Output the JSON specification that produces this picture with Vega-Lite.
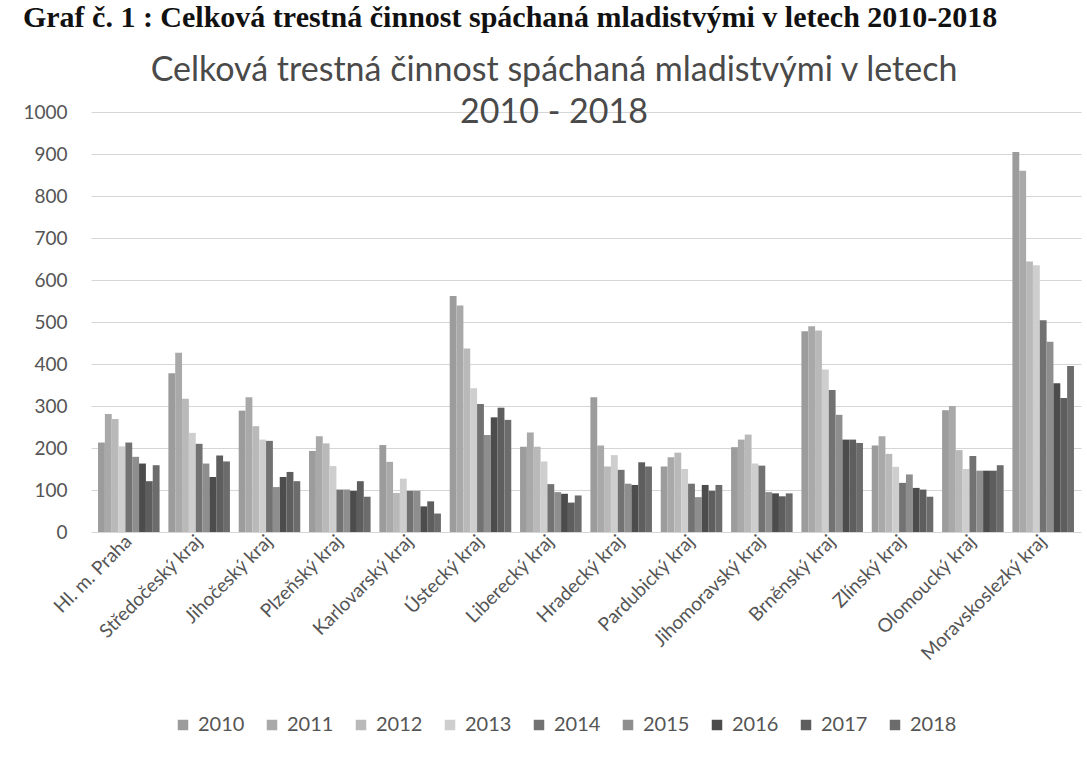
{
  "$schema": "https://vega.github.io/schema/vega-lite/v6.json",
  "padding": {"left": 22, "top": 3, "right": 9, "bottom": 18},
  "background": "white",
  "title": {
    "text": "Graf č. 1 : Celková trestná činnost spáchaná mladistvými v letech 2010-2018",
    "anchor": "start",
    "font": "Liberation Serif",
    "fontSize": 30,
    "fontWeight": "bold",
    "color": "#111111",
    "offset": 21
  },
  "vconcat": [
    {
      "title": {
        "text": ["Celková trestná činnost spáchaná mladistvými v letech", "2010 - 2018"],
        "anchor": "middle",
        "dx": -32,
        "font": "Lato",
        "fontSize": 34,
        "fontWeight": "normal",
        "color": "#4a4a4a",
        "lineHeight": 42,
        "offset": -27
      },
      "width": 990,
      "height": 420,
      "data": {
        "values": [
          {"kraj": "Hl. m. Praha", "rok": "2010", "pocet": 213},
          {"kraj": "Hl. m. Praha", "rok": "2011", "pocet": 281},
          {"kraj": "Hl. m. Praha", "rok": "2012", "pocet": 269},
          {"kraj": "Hl. m. Praha", "rok": "2013", "pocet": 204},
          {"kraj": "Hl. m. Praha", "rok": "2014", "pocet": 213},
          {"kraj": "Hl. m. Praha", "rok": "2015", "pocet": 179},
          {"kraj": "Hl. m. Praha", "rok": "2016", "pocet": 163},
          {"kraj": "Hl. m. Praha", "rok": "2017", "pocet": 121},
          {"kraj": "Hl. m. Praha", "rok": "2018", "pocet": 159},
          {"kraj": "Středočeský kraj", "rok": "2010", "pocet": 378},
          {"kraj": "Středočeský kraj", "rok": "2011", "pocet": 427},
          {"kraj": "Středočeský kraj", "rok": "2012", "pocet": 317},
          {"kraj": "Středočeský kraj", "rok": "2013", "pocet": 236},
          {"kraj": "Středočeský kraj", "rok": "2014", "pocet": 210},
          {"kraj": "Středočeský kraj", "rok": "2015", "pocet": 163},
          {"kraj": "Středočeský kraj", "rok": "2016", "pocet": 131},
          {"kraj": "Středočeský kraj", "rok": "2017", "pocet": 182},
          {"kraj": "Středočeský kraj", "rok": "2018", "pocet": 168},
          {"kraj": "Jihočeský kraj", "rok": "2010", "pocet": 289},
          {"kraj": "Jihočeský kraj", "rok": "2011", "pocet": 321},
          {"kraj": "Jihočeský kraj", "rok": "2012", "pocet": 252},
          {"kraj": "Jihočeský kraj", "rok": "2013", "pocet": 220},
          {"kraj": "Jihočeský kraj", "rok": "2014", "pocet": 217},
          {"kraj": "Jihočeský kraj", "rok": "2015", "pocet": 107},
          {"kraj": "Jihočeský kraj", "rok": "2016", "pocet": 131},
          {"kraj": "Jihočeský kraj", "rok": "2017", "pocet": 143},
          {"kraj": "Jihočeský kraj", "rok": "2018", "pocet": 121},
          {"kraj": "Plzeňský kraj", "rok": "2010", "pocet": 193},
          {"kraj": "Plzeňský kraj", "rok": "2011", "pocet": 228},
          {"kraj": "Plzeňský kraj", "rok": "2012", "pocet": 211},
          {"kraj": "Plzeňský kraj", "rok": "2013", "pocet": 157},
          {"kraj": "Plzeňský kraj", "rok": "2014", "pocet": 101},
          {"kraj": "Plzeňský kraj", "rok": "2015", "pocet": 101},
          {"kraj": "Plzeňský kraj", "rok": "2016", "pocet": 98},
          {"kraj": "Plzeňský kraj", "rok": "2017", "pocet": 121},
          {"kraj": "Plzeňský kraj", "rok": "2018", "pocet": 84},
          {"kraj": "Karlovarský kraj", "rok": "2010", "pocet": 207},
          {"kraj": "Karlovarský kraj", "rok": "2011", "pocet": 167},
          {"kraj": "Karlovarský kraj", "rok": "2012", "pocet": 93},
          {"kraj": "Karlovarský kraj", "rok": "2013", "pocet": 127},
          {"kraj": "Karlovarský kraj", "rok": "2014", "pocet": 98},
          {"kraj": "Karlovarský kraj", "rok": "2015", "pocet": 98},
          {"kraj": "Karlovarský kraj", "rok": "2016", "pocet": 61},
          {"kraj": "Karlovarský kraj", "rok": "2017", "pocet": 73},
          {"kraj": "Karlovarský kraj", "rok": "2018", "pocet": 44},
          {"kraj": "Ústecký kraj", "rok": "2010", "pocet": 562},
          {"kraj": "Ústecký kraj", "rok": "2011", "pocet": 539},
          {"kraj": "Ústecký kraj", "rok": "2012", "pocet": 437},
          {"kraj": "Ústecký kraj", "rok": "2013", "pocet": 342},
          {"kraj": "Ústecký kraj", "rok": "2014", "pocet": 305},
          {"kraj": "Ústecký kraj", "rok": "2015", "pocet": 231},
          {"kraj": "Ústecký kraj", "rok": "2016", "pocet": 273},
          {"kraj": "Ústecký kraj", "rok": "2017", "pocet": 296},
          {"kraj": "Ústecký kraj", "rok": "2018", "pocet": 267},
          {"kraj": "Liberecký kraj", "rok": "2010", "pocet": 203},
          {"kraj": "Liberecký kraj", "rok": "2011", "pocet": 237},
          {"kraj": "Liberecký kraj", "rok": "2012", "pocet": 203},
          {"kraj": "Liberecký kraj", "rok": "2013", "pocet": 168},
          {"kraj": "Liberecký kraj", "rok": "2014", "pocet": 114},
          {"kraj": "Liberecký kraj", "rok": "2015", "pocet": 95},
          {"kraj": "Liberecký kraj", "rok": "2016", "pocet": 91},
          {"kraj": "Liberecký kraj", "rok": "2017", "pocet": 70},
          {"kraj": "Liberecký kraj", "rok": "2018", "pocet": 87},
          {"kraj": "Hradecký kraj", "rok": "2010", "pocet": 321},
          {"kraj": "Hradecký kraj", "rok": "2011", "pocet": 206},
          {"kraj": "Hradecký kraj", "rok": "2012", "pocet": 156},
          {"kraj": "Hradecký kraj", "rok": "2013", "pocet": 183},
          {"kraj": "Hradecký kraj", "rok": "2014", "pocet": 148},
          {"kraj": "Hradecký kraj", "rok": "2015", "pocet": 115},
          {"kraj": "Hradecký kraj", "rok": "2016", "pocet": 112},
          {"kraj": "Hradecký kraj", "rok": "2017", "pocet": 166},
          {"kraj": "Hradecký kraj", "rok": "2018", "pocet": 156},
          {"kraj": "Pardubický kraj", "rok": "2010", "pocet": 156},
          {"kraj": "Pardubický kraj", "rok": "2011", "pocet": 178},
          {"kraj": "Pardubický kraj", "rok": "2012", "pocet": 189},
          {"kraj": "Pardubický kraj", "rok": "2013", "pocet": 150},
          {"kraj": "Pardubický kraj", "rok": "2014", "pocet": 115},
          {"kraj": "Pardubický kraj", "rok": "2015", "pocet": 83},
          {"kraj": "Pardubický kraj", "rok": "2016", "pocet": 112},
          {"kraj": "Pardubický kraj", "rok": "2017", "pocet": 98},
          {"kraj": "Pardubický kraj", "rok": "2018", "pocet": 112},
          {"kraj": "Jihomoravský kraj", "rok": "2010", "pocet": 202},
          {"kraj": "Jihomoravský kraj", "rok": "2011", "pocet": 220},
          {"kraj": "Jihomoravský kraj", "rok": "2012", "pocet": 232},
          {"kraj": "Jihomoravský kraj", "rok": "2013", "pocet": 163},
          {"kraj": "Jihomoravský kraj", "rok": "2014", "pocet": 158},
          {"kraj": "Jihomoravský kraj", "rok": "2015", "pocet": 95},
          {"kraj": "Jihomoravský kraj", "rok": "2016", "pocet": 92},
          {"kraj": "Jihomoravský kraj", "rok": "2017", "pocet": 85},
          {"kraj": "Jihomoravský kraj", "rok": "2018", "pocet": 92},
          {"kraj": "Brněnský kraj", "rok": "2010", "pocet": 478},
          {"kraj": "Brněnský kraj", "rok": "2011", "pocet": 490},
          {"kraj": "Brněnský kraj", "rok": "2012", "pocet": 480},
          {"kraj": "Brněnský kraj", "rok": "2013", "pocet": 387},
          {"kraj": "Brněnský kraj", "rok": "2014", "pocet": 338},
          {"kraj": "Brněnský kraj", "rok": "2015", "pocet": 279},
          {"kraj": "Brněnský kraj", "rok": "2016", "pocet": 220},
          {"kraj": "Brněnský kraj", "rok": "2017", "pocet": 220},
          {"kraj": "Brněnský kraj", "rok": "2018", "pocet": 212},
          {"kraj": "Zlínský kraj", "rok": "2010", "pocet": 206},
          {"kraj": "Zlínský kraj", "rok": "2011", "pocet": 228},
          {"kraj": "Zlínský kraj", "rok": "2012", "pocet": 186},
          {"kraj": "Zlínský kraj", "rok": "2013", "pocet": 155},
          {"kraj": "Zlínský kraj", "rok": "2014", "pocet": 117},
          {"kraj": "Zlínský kraj", "rok": "2015", "pocet": 137},
          {"kraj": "Zlínský kraj", "rok": "2016", "pocet": 105},
          {"kraj": "Zlínský kraj", "rok": "2017", "pocet": 101},
          {"kraj": "Zlínský kraj", "rok": "2018", "pocet": 84},
          {"kraj": "Olomoucký kraj", "rok": "2010", "pocet": 290},
          {"kraj": "Olomoucký kraj", "rok": "2011", "pocet": 300},
          {"kraj": "Olomoucký kraj", "rok": "2012", "pocet": 195},
          {"kraj": "Olomoucký kraj", "rok": "2013", "pocet": 150},
          {"kraj": "Olomoucký kraj", "rok": "2014", "pocet": 181},
          {"kraj": "Olomoucký kraj", "rok": "2015", "pocet": 146},
          {"kraj": "Olomoucký kraj", "rok": "2016", "pocet": 146},
          {"kraj": "Olomoucký kraj", "rok": "2017", "pocet": 146},
          {"kraj": "Olomoucký kraj", "rok": "2018", "pocet": 159},
          {"kraj": "Moravskoslezký kraj", "rok": "2010", "pocet": 905},
          {"kraj": "Moravskoslezký kraj", "rok": "2011", "pocet": 860},
          {"kraj": "Moravskoslezký kraj", "rok": "2012", "pocet": 644},
          {"kraj": "Moravskoslezký kraj", "rok": "2013", "pocet": 635},
          {"kraj": "Moravskoslezký kraj", "rok": "2014", "pocet": 504},
          {"kraj": "Moravskoslezký kraj", "rok": "2015", "pocet": 453},
          {"kraj": "Moravskoslezký kraj", "rok": "2016", "pocet": 354},
          {"kraj": "Moravskoslezký kraj", "rok": "2017", "pocet": 319},
          {"kraj": "Moravskoslezký kraj", "rok": "2018", "pocet": 395}
        ]
      },
      "mark": {"type": "bar"},
      "encoding": {
        "x": {
          "field": "kraj",
          "type": "nominal",
          "sort": null,
          "title": null,
          "scale": {"paddingInner": 0.125, "paddingOuter": 0.1},
          "axis": {
            "labelAngle": -45,
            "labelAlign": "right",
            "labelBaseline": "middle",
            "labelFont": "Lato",
            "labelFontSize": 19,
            "labelColor": "#555555",
            "labelPadding": 6,
            "ticks": false,
            "domain": false,
            "grid": false,
            "labelLimit": 300
          }
        },
        "xOffset": {
          "field": "rok",
          "type": "nominal",
          "scale": {"paddingInner": 0, "paddingOuter": 0}
        },
        "y": {
          "field": "pocet",
          "type": "quantitative",
          "title": null,
          "scale": {"domain": [0, 1000], "nice": false},
          "axis": {
            "values": [0, 100, 200, 300, 400, 500, 600, 700, 800, 900, 1000],
            "format": "d",
            "labelFont": "Lato",
            "labelFontSize": 19,
            "labelColor": "#555555",
            "labelPadding": 24,
            "ticks": false,
            "domain": false,
            "gridColor": "#d6d6d6",
            "gridWidth": 1
          }
        },
        "color": {
          "field": "rok",
          "type": "nominal",
          "title": null,
          "scale": {
            "domain": ["2010", "2011", "2012", "2013", "2014", "2015", "2016", "2017", "2018"],
            "range": ["#9c9c9c", "#a9a9a9", "#b9b9b9", "#cecece", "#727272", "#8e8e8e", "#4c4c4c", "#5e5e5e", "#6c6c6c"]
          },
          "legend": {
            "orient": "none",
            "legendX": 82,
            "legendY": 603,
            "direction": "horizontal",
            "columns": 9,
            "symbolType": "square",
            "symbolSize": 110,
            "symbolStrokeWidth": 0,
            "labelFont": "Lato",
            "labelFontSize": 20,
            "labelColor": "#555555",
            "labelOffset": 5,
            "columnPadding": 17
          }
        }
      }
    }
  ],
  "config": {
    "view": {"stroke": null},
    "font": "Lato"
  }
}
